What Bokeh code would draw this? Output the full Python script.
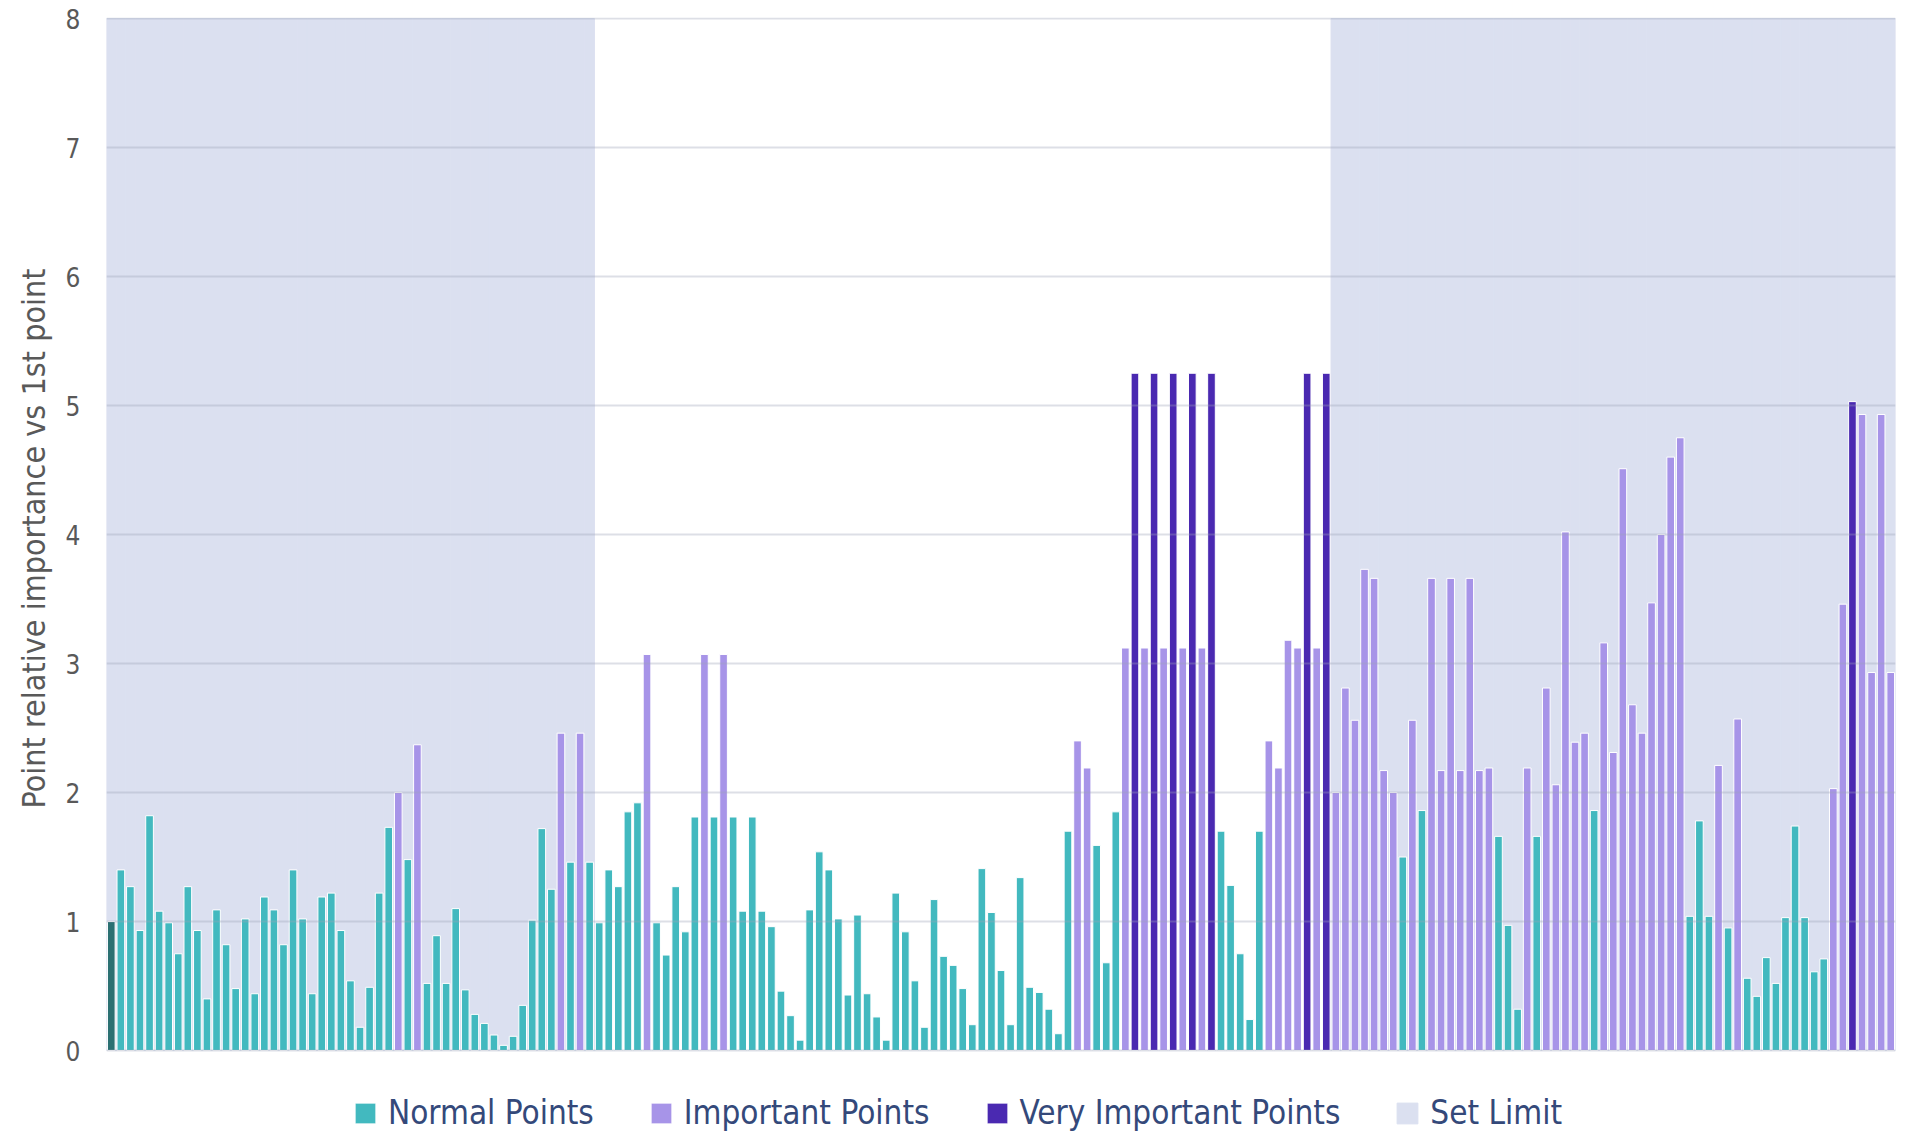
from bokeh.plotting import figure
from bokeh.models import Range1d, FixedTicker, Legend, LegendItem, ColumnDataSource, Title
from bokeh.embed import file_html
from bokeh.resources import INLINE

# Bar values (relative importance vs 1st point), left to right
values = [
    1.00, 1.40, 1.27, 0.93, 1.82, 1.08, 0.99, 0.75, 1.27, 0.93,
    0.40, 1.09, 0.82, 0.48, 1.02, 0.44, 1.19, 1.09, 0.82, 1.40,
    1.02, 0.44, 1.19, 1.22, 0.93, 0.54, 0.18, 0.49, 1.22, 1.73,
    2.00, 1.48, 2.37, 0.52, 0.89, 0.52, 1.10, 0.47, 0.28, 0.21,
    0.12, 0.04, 0.11, 0.35, 1.01, 1.72, 1.25, 2.46, 1.46, 2.46,
    1.46, 0.99, 1.40, 1.27, 1.85, 1.92, 3.07, 0.99, 0.74, 1.27,
    0.92, 1.81, 3.07, 1.81, 3.07, 1.81, 1.08, 1.81, 1.08, 0.96,
    0.46, 0.27, 0.08, 1.09, 1.54, 1.40, 1.02, 0.43, 1.05, 0.44,
    0.26, 0.08, 1.22, 0.92, 0.54, 0.18, 1.17, 0.73, 0.66, 0.48,
    0.20, 1.41, 1.07, 0.62, 0.20, 1.34, 0.49, 0.45, 0.32, 0.13,
    1.70, 2.40, 2.19, 1.59, 0.68, 1.85, 3.12, 5.25, 3.12, 5.25,
    3.12, 5.25, 3.12, 5.25, 3.12, 5.25, 1.70, 1.28, 0.75, 0.24,
    1.70, 2.40, 2.19, 3.18, 3.12, 5.25, 3.12, 5.25, 2.00, 2.81,
    2.56, 3.73, 3.66, 2.17, 2.00, 1.50, 2.56, 1.86, 3.66, 2.17,
    3.66, 2.17, 3.66, 2.17, 2.19, 1.66, 0.97, 0.32, 2.19, 1.66,
    2.81, 2.06, 4.02, 2.39, 2.46, 1.86, 3.16, 2.31, 4.51, 2.68,
    2.46, 3.47, 4.00, 4.60, 4.75, 1.04, 1.78, 1.04, 2.21, 0.95,
    2.57, 0.56, 0.42, 0.72, 0.52, 1.03, 1.74, 1.03, 0.61, 0.71,
    2.03, 3.46, 5.03, 4.93, 2.93, 4.93, 2.93,
]

# Category of each bar: F = 1st point, N = normal, I = important, V = very important
kinds = [
    "F", "N", "N", "N", "N", "N", "N", "N", "N", "N",
    "N", "N", "N", "N", "N", "N", "N", "N", "N", "N",
    "N", "N", "N", "N", "N", "N", "N", "N", "N", "N",
    "I", "N", "I", "N", "N", "N", "N", "N", "N", "N",
    "N", "N", "N", "N", "N", "N", "N", "I", "N", "I",
    "N", "N", "N", "N", "N", "N", "I", "N", "N", "N",
    "N", "N", "I", "N", "I", "N", "N", "N", "N", "N",
    "N", "N", "N", "N", "N", "N", "N", "N", "N", "N",
    "N", "N", "N", "N", "N", "N", "N", "N", "N", "N",
    "N", "N", "N", "N", "N", "N", "N", "N", "N", "N",
    "N", "I", "I", "N", "N", "N", "I", "V", "I", "V",
    "I", "V", "I", "V", "I", "V", "N", "N", "N", "N",
    "N", "I", "I", "I", "I", "V", "I", "V", "I", "I",
    "I", "I", "I", "I", "I", "N", "I", "N", "I", "I",
    "I", "I", "I", "I", "I", "N", "N", "N", "I", "N",
    "I", "I", "I", "I", "I", "N", "I", "I", "I", "I",
    "I", "I", "I", "I", "I", "N", "N", "N", "I", "N",
    "I", "N", "N", "N", "N", "N", "N", "N", "N", "N",
    "I", "I", "V", "I", "I", "I", "I",
]

# Set limit band height per bar (0 = no limit)
limit = [8] * 51 + [0] * 77 + [8] * 59

y_ticks = [0, 1, 2, 3, 4, 5, 6, 7, 8]
y_label = "Point relative importance vs 1st point"
legend_labels = ["Normal Points", "Important Points", "Very Important Points", "Set Limit"]

colors = {"F": "#2b7072", "N": "#42b9bf", "I": "#a794e8", "V": "#4a29b1"}
limit_color = "#dbe0f0"

FONT = "'DejaVu Sans Condensed', Roboto, sans-serif"

n = len(values)
PX_PER_UNIT = 129.0
LEGEND_ROOM = 86   # px of white room under zero for the legend
TOP_ROOM = 1       # px above 8 so the top grid line shows fully

p = figure(
    frame_width=1789, frame_height=int(8 * PX_PER_UNIT) + LEGEND_ROOM + TOP_ROOM,
    x_range=Range1d(-0.5, n - 0.5),
    y_range=Range1d(-LEGEND_ROOM / PX_PER_UNIT, 8 + TOP_ROOM / PX_PER_UNIT),
    x_axis_location=None,
    output_backend="svg", toolbar_location=None,
    min_border_left=106, min_border_top=18 - TOP_ROOM, min_border_right=2, min_border_bottom=0,
    background_fill_color="white", border_fill_color="white",
)
p.outline_line_color = None
p.xgrid.visible = False

# Set limit band
lim_src = ColumnDataSource(dict(
    x=[i for i in range(n) if limit[i] > 0],
    top=[limit[i] for i in range(n) if limit[i] > 0],
))
r_lim = p.vbar(x="x", top="top", bottom=0, width=1.0, source=lim_src,
               fill_color=limit_color, line_color=limit_color, line_width=1, level="underlay")

p.ygrid.level = "glyph"
p.ygrid.grid_line_color = "#9ea4b8"
p.ygrid.grid_line_alpha = 0.35
p.ygrid.grid_line_width = 2
p.ygrid.ticker = FixedTicker(ticks=y_ticks)

renderers = {}
for k in ["F", "N", "I", "V"]:
    xs = [i for i in range(n) if kinds[i] == k]
    src = ColumnDataSource(dict(x=xs, top=[values[i] for i in xs]))
    renderers[k] = p.vbar(x="x", top="top", bottom=0, width=0.8, source=src,
                          fill_color=colors[k], line_color="white", line_width=1)

ax = p.yaxis[0]
ax.ticker = FixedTicker(ticks=y_ticks)
ax.axis_line_color = None
ax.major_tick_line_color = None
ax.minor_tick_line_color = None
ax.major_tick_out = 0
ax.major_tick_in = 0
ax.major_label_standoff = 26
ax.major_label_text_font = FONT
ax.major_label_text_font_size = "26px"
ax.major_label_text_color = "#595959"

# y-axis title, starting from the bottom of the left panel and lifted
# so that it is centred on the 0..8 value span
ytitle = Title(
    text=y_label, align="left", offset=328, standoff=20,
    text_font=FONT, text_font_size="32px", text_font_style="normal", text_color="#595959",
)
p.add_layout(ytitle, "left")

legend = Legend(
    items=[
        LegendItem(label=legend_labels[0], renderers=[renderers["N"]]),
        LegendItem(label=legend_labels[1], renderers=[renderers["I"]]),
        LegendItem(label=legend_labels[2], renderers=[renderers["V"]]),
        LegendItem(label=legend_labels[3], renderers=[r_lim]),
    ],
    orientation="horizontal", location=(246, 4),
    label_text_font=FONT, label_text_font_size="33px", label_text_color="#34497a",
    glyph_width=26, glyph_height=26, label_standoff=10, spacing=54,
    padding=0, margin=0, border_line_color=None, background_fill_alpha=0,
)
p.add_layout(legend, "center")

open("out.html", "w").write(file_html(p, INLINE))
